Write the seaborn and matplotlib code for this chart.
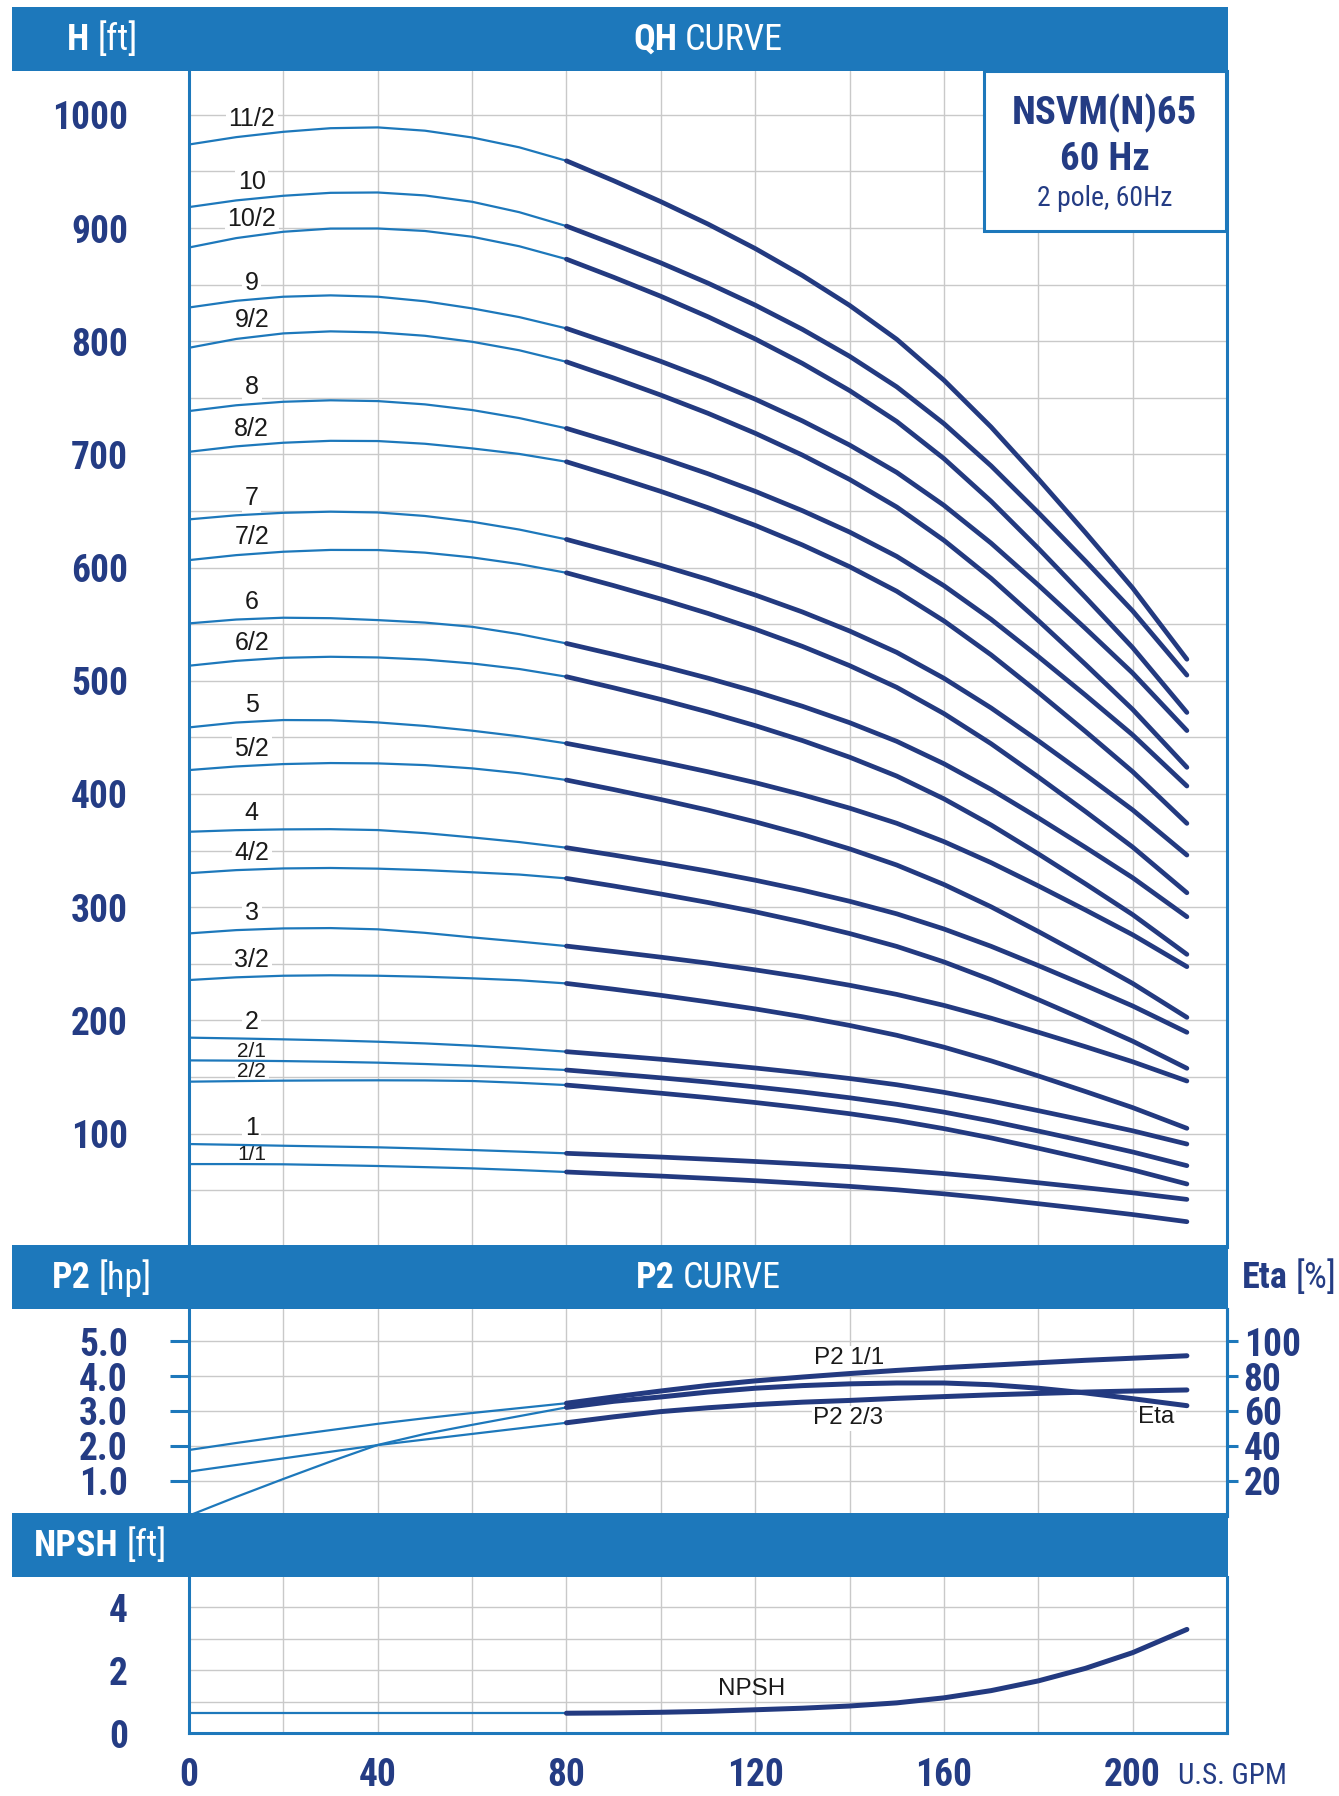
import numpy as np
import matplotlib
matplotlib.use("Agg")
import matplotlib.pyplot as plt
import seaborn as sns
from matplotlib import font_manager
from matplotlib.patches import Rectangle

# flow points (U.S. GPM) where the curves were read
flow = [0, 10, 20, 30, 40, 50, 60, 70, 80, 90, 100, 110, 120, 130, 140, 150, 160, 170, 180,
        190, 200, 211.5]
SPLIT = 8  # index of 80 GPM, where the curves turn heavy

# QH curves, head in ft
h_11_2 = [973.8, 980.3, 985, 988.2, 988.9, 986.0, 980, 971.3, 959.4, 941.8, 923.3, 903.5, 881.9,
          858.1, 831.7, 801.7, 765.6, 724.2, 678.4, 630.9, 582.0, 519]
h_10 = [918.5, 924.4, 928.5, 931.1, 931.4, 928.8, 923.2, 914.0, 901.7, 885.8, 869.2, 851.3, 831.9,
        810.5, 786.7, 759.7, 727.2, 689.9, 648.6, 605.8, 561.7, 505]
h_10_2 = [882.8, 891.1, 896.7, 899.5, 899.6, 897.4, 892.3, 883.9, 872.5, 856.5, 839.7, 821.6, 802.0,
          780.4, 756.4, 729.1, 696.3, 658.6, 617.0, 573.7, 529.3, 472]
h_9 = [829.8, 835.7, 839.3, 840.5, 839.3, 835.3, 829, 821.3, 811.3, 797.1, 782.2, 766.2, 748.8,
       729.6, 708.3, 684.1, 655.0, 621.6, 584.6, 546.2, 506.8, 456]
h_9_2 = [794.2, 802, 806.9, 808.7, 807.8, 804.8, 799.5, 792, 781.8, 767.5, 752.4, 736.3, 718.7,
         699.4, 677.9, 653.5, 624.1, 590.5, 553.2, 514.5, 474.7, 423.5]
h_8 = [738.3, 743.4, 746.5, 747.8, 747.1, 744.2, 739.2, 732.1, 723, 710.4, 697.1, 682.9, 667.4,
       650.3, 631.4, 609.9, 584.0, 554.3, 521.4, 487.3, 452.2, 407]
h_8_2 = [702.3, 707.1, 710.3, 712, 711.8, 709.4, 705.3, 700.4, 693.5, 680.7, 667.3, 652.9, 637.3,
         620.0, 600.8, 579.1, 552.9, 522.9, 489.7, 455.2, 419.7, 374]
h_7 = [642.6, 646.2, 648.4, 649.4, 648.7, 645.6, 640.5, 633.6, 624.9, 613.7, 602.0, 589.5, 575.8,
       560.8, 544.0, 525.1, 502.2, 476.0, 447.0, 416.8, 385.9, 346]
h_7_2 = [606.6, 611, 614, 615.6, 615.5, 613.2, 609, 603.1, 595.4, 584.1, 572.2, 559.5, 545.6,
         530.4, 513.4, 494.2, 471.0, 444.4, 415.0, 384.5, 353.1, 312.7]
h_6 = [550.7, 554.1, 555.7, 555.3, 553.6, 551.4, 547.7, 541.2, 533, 523.3, 513.2, 502.3, 490.5,
       477.5, 463.0, 446.5, 426.7, 404.0, 378.9, 352.8, 326.0, 291.5]
h_6_2 = [513.3, 517.6, 520.3, 521.2, 520.6, 518.7, 515.3, 510.4, 503.6, 493.8, 483.5, 472.4, 460.4,
         447.2, 432.5, 415.8, 395.7, 372.6, 347.1, 320.6, 293.4, 258.3]
h_5 = [458.8, 463.1, 465.3, 465.1, 463.2, 460.1, 455.9, 450.9, 444.7, 436.8, 428.5, 419.6, 410.0,
       399.3, 387.5, 374.1, 357.9, 339.3, 318.8, 297.5, 275.6, 247.4]
h_5_2 = [421.1, 424.3, 426.4, 427.3, 427, 425.5, 422.6, 418.3, 412.3, 403.9, 395.1, 385.7, 375.4,
         364.1, 351.5, 337.2, 320.0, 300.3, 278.5, 255.9, 232.6, 202.6]
h_4 = [366.6, 368.0, 368.7, 368.9, 368.1, 365.4, 361.6, 357.5, 352.5, 346.0, 339.1, 331.8, 323.8,
       315.0, 305.2, 294.1, 280.7, 265.4, 248.4, 230.8, 212.7, 189.4]
h_4_2 = [330, 332.7, 334.2, 334.6, 334, 332.7, 330.8, 328.8, 325.4, 318.7, 311.6, 304.1, 295.9,
         286.8, 276.7, 265.3, 251.6, 235.8, 218.3, 200.2, 181.6, 157.6]
h_3 = [276.8, 279.7, 281.2, 281.5, 280.4, 277.3, 273.3, 269.6, 265.6, 260.8, 255.8, 250.5, 244.6,
       238.2, 231.0, 222.9, 213.2, 201.9, 189.5, 176.7, 163.4, 146.4]
h_3_2 = [235.6, 238.0, 239.4, 239.8, 239.4, 238.5, 237.1, 235.4, 232.6, 227.5, 222.1, 216.3, 210.1,
         203.2, 195.5, 186.8, 176.3, 164.2, 150.9, 137.1, 122.9, 104.6]
h_2 = [184.7, 184.0, 183.2, 182.3, 181.1, 179.6, 177.6, 175.2, 172.3, 169.0, 165.6, 161.9, 157.9,
       153.5, 148.6, 143.1, 136.4, 128.7, 120.2, 111.4, 102.4, 90.7]
h_2_1 = [164.6, 164.4, 164, 163.4, 162.6, 161.4, 159.9, 158.1, 156.1, 152.7, 149.2, 145.4, 141.2,
         136.7, 131.6, 125.8, 118.9, 111.0, 102.2, 93.1, 83.7, 71.6]
h_2_2 = [145.8, 146.3, 146.7, 146.9, 147, 146.9, 146.4, 144.8, 142.8, 139.3, 135.6, 131.7, 127.4,
         122.7, 117.5, 111.5, 104.3, 96.1, 87.0, 77.6, 67.9, 55.4]
h_1 = [90.7, 90.0, 89.2, 88.5, 87.8, 86.7, 85.4, 84.0, 82.5, 80.9, 79.2, 77.3, 75.3, 73.1, 70.7,
       67.9, 64.6, 60.8, 56.5, 52.1, 47.6, 41.8]
h_1_1 = [73, 73.0, 72.8, 72.1, 71.3, 70.3, 69.2, 67.7, 66, 64.2, 62.4, 60.4, 58.3, 55.9, 53.3,
         50.3, 46.7, 42.6, 38.0, 33.3, 28.4, 22.1]

stage_labels = ["11/2", "10", "10/2", "9", "9/2", "8", "8/2", "7", "7/2", "6", "6/2",
                "5", "5/2", "4", "4/2", "3", "3/2", "2", "2/1", "2/2", "1", "1/1"]
stage_heads = [h_11_2, h_10, h_10_2, h_9, h_9_2, h_8, h_8_2, h_7, h_7_2, h_6, h_6_2,
               h_5, h_5_2, h_4, h_4_2, h_3, h_3_2, h_2, h_2_1, h_2_2, h_1, h_1_1]
small_labels = ["2/1", "2/2", "1/1"]

# P2 [hp], efficiency [%], NPSH [ft]
p2_1_1 = [1.88, 2.08, 2.27, 2.45, 2.63, 2.79, 2.94, 3.08, 3.22, 3.40, 3.57, 3.73, 3.86, 3.97,
          4.07, 4.16, 4.24, 4.31, 4.38, 4.45, 4.51, 4.58]
p2_2_3 = [1.26, 1.45, 1.64, 1.83, 2.02, 2.18, 2.34, 2.50, 2.66, 2.83, 2.98, 3.09, 3.18, 3.25,
          3.30, 3.36, 3.41, 3.46, 3.50, 3.54, 3.57, 3.60]
eta = [0, 10.7, 21, 31, 40.5, 46.8, 52, 57, 62, 65.5, 68, 70.8, 73, 74.5, 75.5, 76, 76, 75,
       73, 70.3, 67, 63]
npsh = [0.63, 0.63, 0.63, 0.63, 0.63, 0.63, 0.63, 0.63, 0.63, 0.64, 0.66, 0.69, 0.74, 0.79,
        0.86, 0.96, 1.12, 1.35, 1.66, 2.06, 2.56, 3.3]

BLUE = "#1d78bb"
NAVY = "#243c84"
THICK = "#233a80"
GRID = "#c9c9c9"

sns.set_style("white")
names = {f.name for f in font_manager.fontManager.ttflist}
cond = next((n for n in ["Roboto Condensed", "Liberation Sans Narrow", "DejaVu Sans Condensed",
                         "Open Sans Condensed"] if n in names), None)
base = cond if cond else "Roboto"
plt.rcParams["font.family"] = [base, "DejaVu Sans"]
scale = 1.0 if cond else 0.85

W, H = 1339, 1796
fig = plt.figure(figsize=(W / 100, H / 100), dpi=100)


def fx(px):
    return px / W


def fy(py):
    return 1 - py / H


def panel(top, bottom):
    return fig.add_axes([fx(189), fy(bottom), fx(1227) - fx(189), (bottom - top) / H])


def two_tone(ax, values, heavy_width=3.4):
    sns.lineplot(x=flow[:SPLIT + 1], y=values[:SPLIT + 1], ax=ax, color=BLUE, linewidth=1.6,
                 zorder=3)
    sns.lineplot(x=flow[SPLIT:], y=values[SPLIT:], ax=ax, color=THICK, linewidth=heavy_width,
                 zorder=3, solid_capstyle="round", solid_joinstyle="round")


ax_qh = panel(70.7, 1246.7)
ax_p2 = panel(1309, 1515.6)
ax_np = panel(1577, 1733)

tick_fs = 27 * scale
for ax in (ax_qh, ax_p2, ax_np):
    ax.set_xlim(0, 220)
    ax.set_axisbelow(True)
    for side in ("left", "right", "bottom", "top"):
        ax.spines[side].set_color(BLUE)
        ax.spines[side].set_linewidth(2.2)
    ax.spines["top"].set_visible(False)
    ax.tick_params(axis="y", which="major", direction="out", length=14, width=2.2,
                   color=BLUE, pad=30, labelsize=tick_fs, labelcolor=NAVY)
    ax.tick_params(which="minor", length=0)

for ax in (ax_qh, ax_p2):
    ax.spines["bottom"].set_visible(False)
    ax.set_xticks(np.arange(0, 221, 20))
    ax.tick_params(axis="x", length=0, labelbottom=False)
    ax.grid(True, which="both", color=GRID, linewidth=1.0)

# QH panel
ax_qh.set_ylim(0, 1039)
ax_qh.set_yticks(np.arange(100, 1001, 100))
ax_qh.set_yticks(np.arange(50, 1001, 100), minor=True)
for lbl, h in zip(stage_labels, stage_heads):
    two_tone(ax_qh, h)
    small = lbl in small_labels
    ax_qh.annotate(lbl, (13.3, np.interp(13.3, flow, h)), xytext=(0, 7 if small else 12),
                   textcoords="offset points", ha="center", va="center",
                   fontsize=15 if small else 18, family="Liberation Sans", color="#1a1a1a",
                   bbox=dict(fc="white", ec="none", pad=2), zorder=2)
ax_qh.set_xlabel("")
ax_qh.set_ylabel("")

# P2 panel with efficiency on the right
ax_p2.set_ylim(0, 5.92)
ax_p2.set_yticks([1, 2, 3, 4, 5])
ax_p2.set_yticklabels(["1.0", "2.0", "3.0", "4.0", "5.0"])
two_tone(ax_p2, p2_1_1, 3.6)
two_tone(ax_p2, p2_2_3, 3.6)
ax_p2.set_xlabel("")
ax_p2.set_ylabel("")
ax_eta = ax_p2.twinx()
ax_eta.set_ylim(0, 118.4)
two_tone(ax_eta, eta, 3.6)
ax_eta.set_yticks([20, 40, 60, 80, 100])
ax_eta.tick_params(axis="y", direction="out", length=8, width=2.2, color=BLUE, pad=4,
                   labelsize=tick_fs, labelcolor=NAVY)
for side in ("left", "top", "bottom"):
    ax_eta.spines[side].set_visible(False)
ax_eta.spines["right"].set_color(BLUE)
ax_eta.spines["right"].set_linewidth(2.2)
ax_eta.set_ylabel("")
for txt, x, y in (("P2 1/1", 140, 4.51), ("P2 2/3", 139.7, 2.79), ("Eta", 205, 2.83)):
    ax_p2.text(x, y, txt, ha="center", va="center", fontsize=17.5, family="Liberation Sans",
               color="#1a1a1a", bbox=dict(fc="white", ec="none", pad=1), zorder=2)

# NPSH panel
ax_np.set_ylim(0, 4.97)
ax_np.set_yticks([0, 2, 4])
ax_np.set_yticks([1, 3], minor=True)
ax_np.set_xticks(np.arange(0, 201, 40))
ax_np.set_xticks(np.arange(20, 221, 40), minor=True)
ax_np.grid(True, which="both", color=GRID, linewidth=1.0)
ax_np.tick_params(axis="x", which="major", direction="out", length=14, width=2.2, color=BLUE,
                  pad=3, labelsize=tick_fs, labelcolor=NAVY)
two_tone(ax_np, npsh, 3.6)
ax_np.text(119.3, 1.4, "NPSH", ha="center", va="center", fontsize=17.5,
           family="Liberation Sans", color="#1a1a1a", zorder=2)
ax_np.set_xlabel("")
ax_np.set_ylabel("")

for ax in (ax_qh, ax_p2, ax_eta, ax_np):
    for lbl in ax.get_yticklabels() + ax.get_xticklabels():
        lbl.set_fontweight("bold")

# header bands
for top, bottom in ((7, 70.7), (1245, 1309), (1513, 1577)):
    fig.add_artist(Rectangle((fx(12), fy(bottom)), fx(1227.7) - fx(12), (bottom - top) / H,
                             transform=fig.transFigure, fc=BLUE, ec="none", zorder=5))

# model box
fig.add_artist(Rectangle((fx(983.6), fy(230.7)), fx(1226) - fx(983.6), (230.7 - 70.7) / H,
                         transform=fig.transFigure, fc="white", ec=BLUE, lw=2.2, zorder=4))
fig.text(fx(1104.6), fy(113), "NSVM(N)65", ha="center", va="center", fontsize=28 * scale,
         fontweight="bold", color=NAVY, zorder=6)
fig.text(fx(1104.6), fy(159), "60 Hz", ha="center", va="center", fontsize=28 * scale,
         fontweight="bold", color=NAVY, zorder=6)
fig.text(fx(1104.6), fy(198), "2 pole, 60Hz", ha="center", va="center", fontsize=20 * scale,
         color=NAVY, zorder=6)

renderer = fig.canvas.get_renderer()


def header_text(x, y, bold, light, ha, color="white", size=26):
    t1 = fig.text(fx(x), fy(y), bold, fontweight="bold", fontsize=size * scale, color=color,
                  va="center", ha="left", zorder=6)
    t2 = fig.text(fx(x), fy(y), light, fontsize=size * scale, color=color,
                  va="center", ha="left", zorder=6)
    w1 = t1.get_window_extent(renderer).width
    w2 = t2.get_window_extent(renderer).width
    gap = 8
    start = {"left": x, "center": x - (w1 + gap + w2) / 2, "right": x - (w1 + gap + w2)}[ha]
    t1.set_x(fx(start))
    t2.set_x(fx(start + w1 + gap))


header_text(67, 40, "H", "[ft]", "left")
header_text(708, 40, "QH", "CURVE", "center")
header_text(52, 1278, "P2", "[hp]", "left")
header_text(708, 1278, "P2", "CURVE", "center")
header_text(34, 1546, "NPSH", "[ft]", "left")
header_text(1337, 1278, "Eta", "[%]", "right", color=NAVY)

fig.text(fx(1178), fy(1776), "U.S. GPM", ha="left", va="center", fontsize=21 * scale,
         color=NAVY)

fig.savefig("out.png", dpi=100)
